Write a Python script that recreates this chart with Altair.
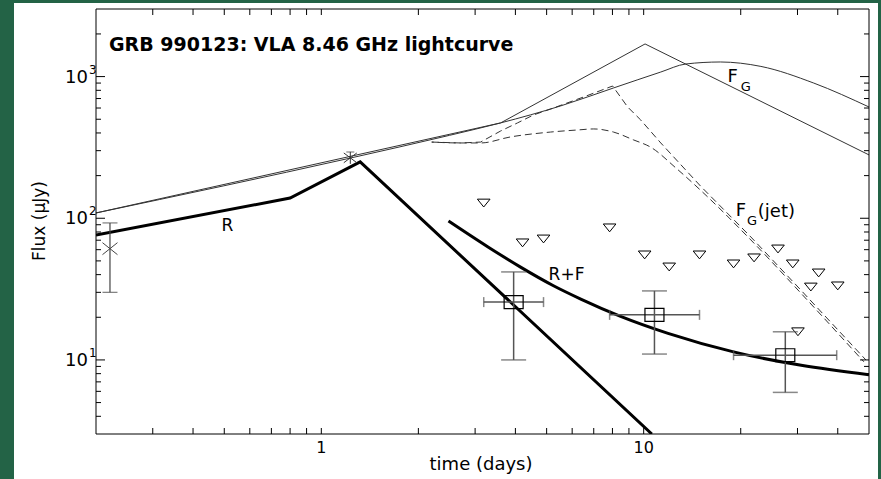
import altair as alt
import pandas as pd

FONT = "DejaVu Sans"

# ---------------- data ----------------
# thin solid: forward shock F (broken power law)
f_t = [0.2, 3.6, 10.1, 50]
f_y = [109, 471, 1700, 280]

# thin solid smooth: F_G
fg_t = [0.2, 1.23, 2.5, 3.6, 5.53, 8.06, 11.3, 13.5, 17.3, 23.1, 33.7, 50]
fg_y = [109, 266, 385, 471, 621, 831, 1077, 1227, 1268, 1180, 900, 610]

# dashed: F_G(jet)
jet_t = [2.2, 2.7, 3.12, 3.6, 4.06, 4.55, 5.14, 6.51, 8.01, 8.92, 9.79, 11.3, 15.0, 21.5, 30.7, 48.9]
jet_y = [345, 340, 345, 413, 471, 536, 590, 718, 858, 610, 494, 340, 169, 73.8, 31.2, 10.0]

# dashed: lower model curve
low_t = [2.2, 2.7, 3.12, 3.86, 5.14, 6.24, 7.0, 8.06, 9.31, 10.5, 12.6, 15.0, 21.5, 30.7, 48.2]
low_y = [345, 340, 340, 375, 406, 420, 427, 406, 357, 318, 226, 158, 70.3, 29.7, 9.7]

# thick: reverse shock R
r_t = [0.2, 0.8, 1.32, 10.6]
r_y = [76, 139, 250, 3]

# thick: R+F
rf_t = [2.48, 3.28, 4.15, 5.25, 6.38, 8.48, 11.9, 19.0, 30.8, 50]
rf_y = [95.7, 63.0, 45.2, 33.4, 26.9, 20.3, 15.4, 11.4, 9.16, 7.86]

# upper limits (open down-triangles)
ul_t = [3.19, 4.21, 4.89, 7.84, 10.07, 12.0, 14.9, 19.0, 22.0, 26.1, 29.0, 30.1, 33.0, 34.9, 40.0]
ul_y = [128, 67, 71.4, 85.5, 55.1, 45.3, 55.1, 47.6, 52.5, 60.7, 47.6, 15.8, 32.7, 41.1, 33.3]

# detections (open squares with x/y error bars)
sq_t = [3.95, 10.8, 27.5]
sq_y = [25.6, 20.8, 10.8]
sq_ylo = [10, 11, 5.9]
sq_yhi = [41.8, 30.7, 15.8]
sq_tlo = [3.19, 7.84, 19.0]
sq_thi = [4.89, 14.9, 39.7]

# early points: X marker and asterisk with y error bars
xm_t = [0.221]
xm_y = [61]
xm_ylo = [30]
xm_yhi = [92.7]
as_t = [1.23]
as_y = [267]
as_ylo = [242]
as_yhi = [294]

# tick values and tick labels
x_major = [1, 10]
x_major_lab = ["1", "10"]
x_minor = [0.3, 0.4, 0.5, 0.6, 0.7, 0.8, 0.9, 2, 3, 4, 5, 6, 7, 8, 9, 20, 30, 40]
y_major = [10, 100, 1000]
y_major_base = ["10", "10", "10"]
y_major_exp = ["1", "2", "3"]
y_minor = [4, 5, 6, 7, 8, 9, 20, 30, 40, 50, 60, 70, 80, 90,
           200, 300, 400, 500, 600, 700, 800, 900, 2000]

# annotations
lab_text = ["R", "R+F", "F", "G", "F", "G", "(jet)"]
lab_t = [0.511, 5.07, 18.2, 20.0, 19.3, 20.9, 22.6]
lab_y = [88.3, 39.8, 1000, 838, 112, 96.4, 110]
lab_size = [17, 17, 18, 13, 18, 13, 18]
lab_align = ["center", "left", "left", "left", "left", "left", "left"]

# ---------------- chart ----------------
W, H = 773, 425
xs = alt.Scale(type="log", domain=[0.2, 50])
ys = alt.Scale(type="log", domain=[3, 3000])


def X(field="t", **kw):
    return alt.X(f"{field}:Q", scale=xs, axis=None, **kw)


def Y(field="flux", **kw):
    return alt.Y(f"{field}:Q", scale=ys, axis=None, **kw)


one = pd.DataFrame({"a": [0]})

panel = alt.Chart(one).mark_rect(color="white").encode(
    x=alt.value(-82), x2=alt.value(782), y=alt.value(-6), y2=alt.value(480)
)


def line(t, y, interp="linear", **mk):
    df = pd.DataFrame({"t": t, "flux": y})
    return alt.Chart(df).mark_line(clip=True, interpolate=interp, **mk).encode(
        x=X(), y=Y()
    )


f_line = line(f_t, f_y, "linear", color="#333333", strokeWidth=1)
fg_line = line(fg_t, fg_y, "monotone", color="#333333", strokeWidth=1)
jet_line = line(jet_t, jet_y, "linear", color="#333333", strokeWidth=1, strokeDash=[7, 4])
low_line = line(low_t, low_y, "monotone", color="#333333", strokeWidth=1,
                strokeDash=[7, 4], strokeDashOffset=5)
r_line = line(r_t, r_y, "linear", color="black", strokeWidth=3)
rf_line = line(rf_t, rf_y, "monotone", color="black", strokeWidth=3)

# upper limits
ul_df = pd.DataFrame({"t": ul_t, "flux": ul_y})
ul = alt.Chart(ul_df).mark_point(
    shape="M-1,-0.62L1,-0.62L0,0.62Z", size=160, filled=False,
    color="black", strokeWidth=1, opacity=1
).encode(x=X(), y=Y())

# squares with error bars
sq_df = pd.DataFrame({"t": sq_t, "flux": sq_y, "ylo": sq_ylo, "yhi": sq_yhi,
                      "tlo": sq_tlo, "thi": sq_thi})
EB = "#555555"
sq_v = alt.Chart(sq_df).mark_rule(color=EB, strokeWidth=1.5).encode(
    x=X(), y=Y("ylo"), y2="yhi:Q")
sq_h = alt.Chart(sq_df).mark_rule(color=EB, strokeWidth=1.5).encode(
    x=X("tlo"), x2="thi:Q", y=Y())
sq_cap_lo = alt.Chart(sq_df).mark_tick(color=EB, orient="horizontal", size=25, thickness=1.5).encode(
    x=X(), y=Y("ylo"))
sq_cap_hi = alt.Chart(sq_df).mark_tick(color=EB, orient="horizontal", size=25, thickness=1.5).encode(
    x=X(), y=Y("yhi"))
sq_cap_l = alt.Chart(sq_df).mark_tick(color=EB, orient="vertical", size=10, thickness=1.5).encode(
    x=X("tlo"), y=Y())
sq_cap_r = alt.Chart(sq_df).mark_tick(color=EB, orient="vertical", size=10, thickness=1.5).encode(
    x=X("thi"), y=Y())
sq_pt = alt.Chart(sq_df).mark_point(
    shape="M-1,-0.68L1,-0.68L1,0.68L-1,0.68Z", size=361, filled=False,
    color="black", strokeWidth=1.2, opacity=1
).encode(x=X(), y=Y())

# X marker
xm_df = pd.DataFrame({"t": xm_t, "flux": xm_y, "ylo": xm_ylo, "yhi": xm_yhi})
xm_v = alt.Chart(xm_df).mark_rule(color="#444444", strokeWidth=1.2).encode(
    x=X(), y=Y("ylo"), y2="yhi:Q")
xm_c1 = alt.Chart(xm_df).mark_tick(color="#444444", orient="horizontal", size=15, thickness=1.2).encode(
    x=X(), y=Y("ylo"))
xm_c2 = alt.Chart(xm_df).mark_tick(color="#444444", orient="horizontal", size=15, thickness=1.2).encode(
    x=X(), y=Y("yhi"))
xm_pt = alt.Chart(xm_df).mark_point(
    shape="M-1,-0.8L1,0.8M-1,0.8L1,-0.8", size=225, filled=False,
    color="#444444", strokeWidth=1, opacity=1
).encode(x=X(), y=Y())

# asterisk
as_df = pd.DataFrame({"t": as_t, "flux": as_y, "ylo": as_ylo, "yhi": as_yhi})
as_v = alt.Chart(as_df).mark_rule(color="#333333", strokeWidth=1).encode(
    x=X(), y=Y("ylo"), y2="yhi:Q")
as_c = alt.Chart(as_df).mark_tick(color="#333333", orient="horizontal", size=8, thickness=1).encode(
    x=X(), y=Y("yhi"))
as_pt = alt.Chart(as_df).mark_point(
    shape="M-1,-0.75L1,0.75M-1,0.75L1,-0.75", size=169, filled=False,
    color="#333333", strokeWidth=1, opacity=1
).encode(x=X(), y=Y())

# annotations
lab_df = pd.DataFrame({"t": lab_t, "flux": lab_y, "txt": lab_text,
                       "fs": lab_size, "al": lab_align})
labels = []
for al in ["center", "left"]:
    for fs in sorted(set(lab_size)):
        sub = lab_df[(lab_df.al == al) & (lab_df.fs == fs)]
        if len(sub) == 0:
            continue
        labels.append(alt.Chart(sub).mark_text(
            font=FONT, fontSize=fs, align=al, baseline="middle", color="black"
        ).encode(x=X(), y=Y(), text="txt:N"))

title_txt = alt.Chart(one).mark_text(
    text="GRB 990123: VLA 8.46 GHz lightcurve", font=FONT, fontSize=19,
    fontWeight="bold", align="left", baseline="middle", color="black"
).encode(x=alt.value(13), y=alt.value(36))

# tick labels and axis titles (drawn as text)
xlab_df = pd.DataFrame({"t": x_major, "lab": x_major_lab})
xlabels = alt.Chart(xlab_df).mark_text(
    font=FONT, fontSize=16, align="center", baseline="top", color="black"
).encode(x=X(), y=alt.value(H + 6), text="lab:N")
ylab_df = pd.DataFrame({"flux": y_major, "base": y_major_base, "exp": y_major_exp})
ylabels = alt.Chart(ylab_df).mark_text(
    font=FONT, fontSize=18, align="right", baseline="middle", color="black", dy=1
).encode(x=alt.value(-8), y=Y(), text="base:N")
yexps = alt.Chart(ylab_df).mark_text(
    font=FONT, fontSize=12, align="left", baseline="middle", color="black", dy=-7
).encode(x=alt.value(-7), y=Y(), text="exp:N")
xtitle = alt.Chart(one).mark_text(
    text="time (days)", font=FONT, fontSize=18, align="center",
    baseline="middle", color="black"
).encode(x=alt.value(385), y=alt.value(H + 31))
ytitle = alt.Chart(one).mark_text(
    text="Flux (µJy)", font=FONT, fontSize=17, align="center",
    baseline="middle", color="black", angle=270
).encode(x=alt.value(-56), y=alt.value(212))

# inward ticks
xmj = pd.DataFrame({"t": x_major})
xmn = pd.DataFrame({"t": x_minor})
ymj = pd.DataFrame({"flux": y_major})
ymn = pd.DataFrame({"flux": y_minor})
TK = dict(color="black", strokeWidth=1)
ticks = [
    alt.Chart(pd.concat([xmj, xmn])).mark_rule(**TK).encode(x=X(), y=alt.value(H), y2=alt.value(H - 6)),
    alt.Chart(pd.concat([xmj, xmn])).mark_rule(**TK).encode(x=X(), y=alt.value(0), y2=alt.value(6)),
    alt.Chart(ymj).mark_rule(**TK).encode(y=Y(), x=alt.value(0), x2=alt.value(9)),
    alt.Chart(ymn).mark_rule(**TK).encode(y=Y(), x=alt.value(0), x2=alt.value(5)),
    alt.Chart(ymj).mark_rule(**TK).encode(y=Y(), x=alt.value(W), x2=alt.value(W - 9)),
    alt.Chart(ymn).mark_rule(**TK).encode(y=Y(), x=alt.value(W), x2=alt.value(W - 5)),
]

frame = alt.Chart(one).mark_rect(filled=False, stroke="black", strokeWidth=1).encode(
    x=alt.value(0), x2=alt.value(W), y=alt.value(0), y2=alt.value(H)
)

chart = alt.layer(
    panel, f_line, fg_line, jet_line, low_line, r_line, rf_line,
    ul, sq_v, sq_h, sq_cap_lo, sq_cap_hi, sq_cap_l, sq_cap_r, sq_pt,
    xm_v, xm_c1, xm_c2, xm_pt, as_v, as_c, as_pt,
    *labels, title_txt, xlabels, ylabels, yexps, xtitle, ytitle, *ticks, frame
).properties(
    width=W, height=H,
    background="#236346",
    autosize=alt.AutoSizeParams(type="none"),
    padding={"left": 96, "top": 9, "right": 12, "bottom": 45},
).configure_view(strokeWidth=0)

chart.save("out.html", embed_options={"renderer": "svg", "actions": False})
